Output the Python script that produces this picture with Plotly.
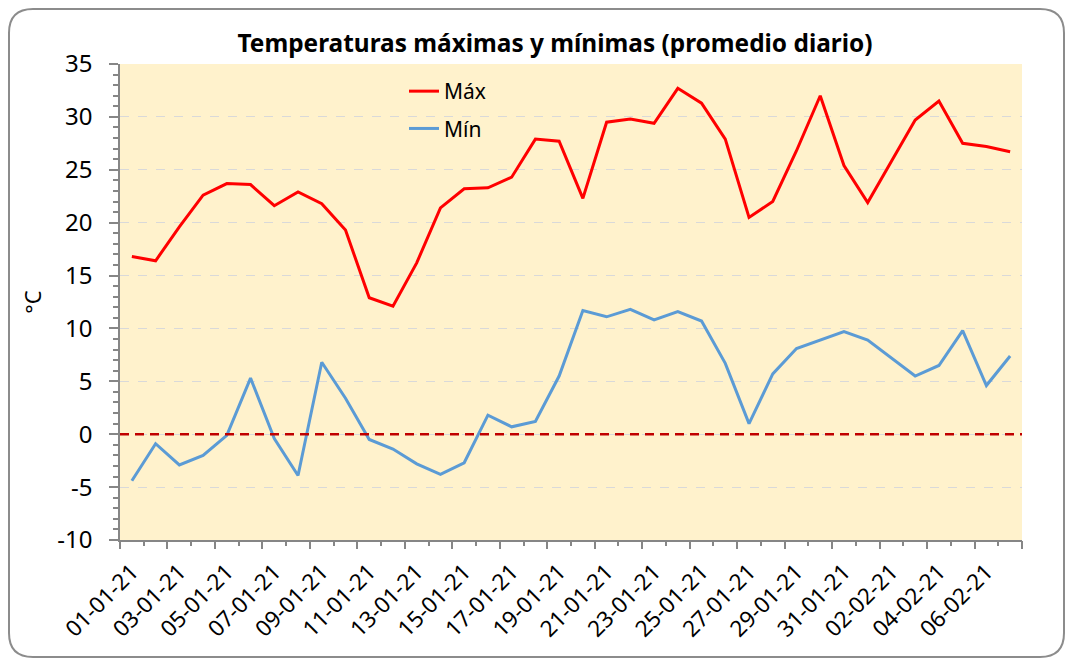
import plotly.graph_objects as go

# ---- data ----
dates = ["01-01-21", "02-01-21", "03-01-21", "04-01-21", "05-01-21", "06-01-21", "07-01-21",
         "08-01-21", "09-01-21", "10-01-21", "11-01-21", "12-01-21", "13-01-21", "14-01-21",
         "15-01-21", "16-01-21", "17-01-21", "18-01-21", "19-01-21", "20-01-21", "21-01-21",
         "22-01-21", "23-01-21", "24-01-21", "25-01-21", "26-01-21", "27-01-21", "28-01-21",
         "29-01-21", "30-01-21", "31-01-21", "01-02-21", "02-02-21", "03-02-21", "04-02-21",
         "05-02-21", "06-02-21", "07-02-21"]

t_max = [16.8, 16.4, 19.6, 22.6, 23.7, 23.6, 21.6, 22.9, 21.8, 19.3, 12.9, 12.1, 16.2,
         21.4, 23.2, 23.3, 24.3, 27.9, 27.7, 22.3, 29.5, 29.8, 29.4, 32.7, 31.3, 27.9,
         20.5, 22.0, 26.8, 32.0, 25.4, 21.9, 25.8, 29.7, 31.5, 27.5, 27.2, 26.7]

t_min = [-4.4, -0.9, -2.9, -2.0, -0.1, 5.3, -0.4, -3.9, 6.8, 3.4, -0.5, -1.4, -2.8,
         -3.8, -2.7, 1.8, 0.7, 1.2, 5.5, 11.7, 11.1, 11.8, 10.8, 11.6, 10.7, 6.7,
         1.0, 5.7, 8.1, 8.9, 9.7, 8.9, 7.2, 5.5, 6.5, 9.8, 4.6, 7.4]

label_dates = dates[::2]
y_ticks = [-10, -5, 0, 5, 10, 15, 20, 25, 30, 35]
y_ticktext = ["-10", "-5", "0", "5", "10", "15", "20", "25", "30", "35"]

# ---- layout geometry (pixels) ----
W, H = 1066, 660
L, R, T, B = 120, 1022, 64, 540
pw, ph = R - L, B - T


def px(x):
    return (x - L) / pw


def py(y):
    return (B - y) / ph


FONT = "Noto Sans"
GRAY = "#868686"
n = len(dates)

fig = go.Figure()
fig.add_trace(go.Scatter(x=dates, y=t_max, name="Máx", mode="lines",
                         line=dict(color="#FF0000", width=3), legendgroup="a"))
fig.add_trace(go.Scatter(x=dates, y=t_min, name="Mín", mode="lines",
                         line=dict(color="#5B9BD5", width=3), legendgroup="b"))
# helper (invisible) trace so the boundary-tick axis is rendered
fig.add_trace(go.Scatter(x=[-0.5, n - 0.5], y=[None, None], xaxis="x2", yaxis="y",
                         mode="lines", showlegend=False, hoverinfo="skip"))

# rounded chart-area border
x0, x1, y0, y1, r = 9, 1064, 9, 657, 24
path = (f"M {px(x0 + r)},{py(y0)} L {px(x1 - r)},{py(y0)} "
        f"Q {px(x1)},{py(y0)} {px(x1)},{py(y0 + r)} L {px(x1)},{py(y1 - r)} "
        f"Q {px(x1)},{py(y1)} {px(x1 - r)},{py(y1)} L {px(x0 + r)},{py(y1)} "
        f"Q {px(x0)},{py(y1)} {px(x0)},{py(y1 - r)} L {px(x0)},{py(y0 + r)} "
        f"Q {px(x0)},{py(y0)} {px(x0 + r)},{py(y0)} Z")
fig.add_shape(type="path", path=path, xref="paper", yref="paper",
              line=dict(color="#8C8C8C", width=2), layer="below")

# zero reference line
fig.add_shape(type="line", xref="paper", yref="y", x0=0, x1=1, y0=0, y1=0,
              line=dict(color="#C00000", width=2.5, dash="9px,6px"))

fig.update_layout(
    width=W, height=H,
    margin=dict(l=L, r=W - R, t=T, b=H - B, pad=0, autoexpand=False),
    paper_bgcolor="white",
    plot_bgcolor="#FFF2CC",
    font=dict(family=FONT, color="#000000"),
    title=dict(text="<b>Temperaturas máximas y mínimas (promedio diario)</b>",
               font=dict(family=FONT, size=24.4, color="#000000"),
               x=555 / W, xanchor="center", xref="container",
               y=1 - 43 / H, yanchor="middle", yref="container"),
    showlegend=True,
    legend=dict(x=px(404), y=py(71), xanchor="left", yanchor="top",
                font=dict(family=FONT, size=21), bgcolor="rgba(0,0,0,0)",
                tracegroupgap=7, itemwidth=30),
    xaxis=dict(type="category", range=[-0.5, n - 0.5], automargin=False,
               tickmode="array", tickvals=label_dates, ticktext=label_dates,
               tickangle=-45, ticks="", showgrid=False, zeroline=False,
               showline=True, linecolor=GRAY, linewidth=1.5,
               tickfont=dict(family=FONT, size=22.5), ticklabelstandoff=8),
    xaxis2=dict(overlaying="x", anchor="y", side="bottom", type="linear",
                range=[-0.5, n - 0.5], showticklabels=False, showgrid=False,
                zeroline=False, showline=False, automargin=False,
                tickmode="array", tickvals=[k - 0.5 for k in range(0, n + 1, 2)],
                ticks="outside", ticklen=8, tickwidth=1.5, tickcolor=GRAY,
                minor=dict(tickmode="array", tickvals=[k - 0.5 for k in range(1, n + 1, 2)],
                           ticks="outside", ticklen=5, tickwidth=1.5, tickcolor=GRAY)),
    yaxis=dict(range=[-10, 35], tickmode="array", tickvals=y_ticks, ticktext=y_ticktext,
               automargin=False,
               ticks="outside", ticklen=9, tickwidth=1.5, tickcolor=GRAY,
               minor=dict(dtick=1, ticks="outside", ticklen=5, tickwidth=1.5,
                          tickcolor=GRAY, showgrid=False),
               showgrid=True, gridcolor="#D9D9D9", griddash="dash", gridwidth=1,
               zeroline=False, showline=True, linecolor=GRAY, linewidth=1.5,
               tickfont=dict(family=FONT, size=24), ticklabelstandoff=12,
               title=dict(text="°C", font=dict(family=FONT, size=22), standoff=10)),
)

fig.write_html("out.html", config={"displayModeBar": False},
               post_script="document.body.style.margin='0px';")
